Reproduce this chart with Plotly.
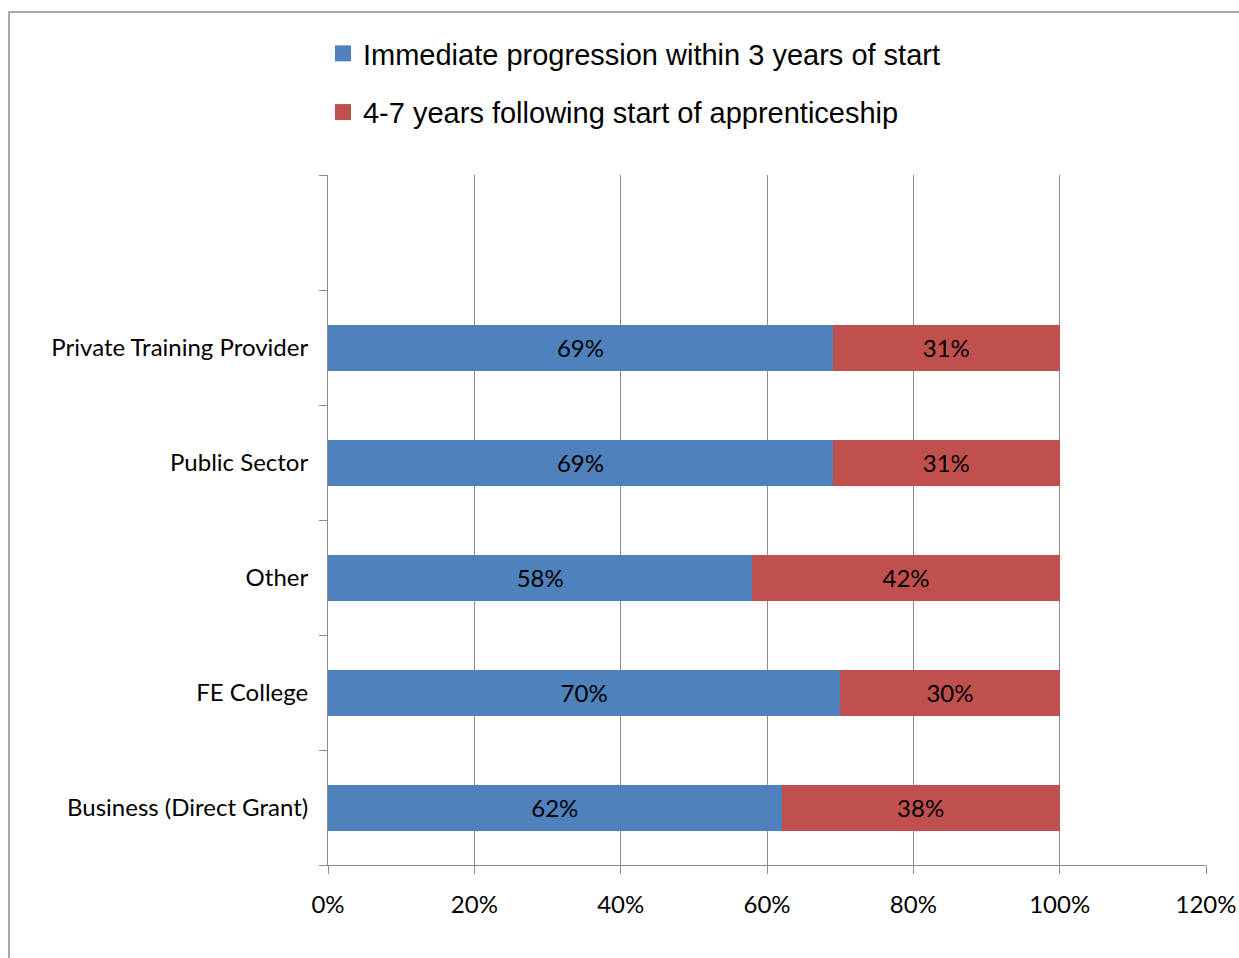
import plotly.graph_objects as go

categories = ["Business (Direct Grant)", "FE College", "Other", "Public Sector", "Private Training Provider"]
immediate = [0.62, 0.70, 0.58, 0.69, 0.69]
later = [0.38, 0.30, 0.42, 0.31, 0.31]
series_names = ["Immediate progression within 3 years of start", "4-7 years following start of apprenticeship"]
x_ticks = [0, 0.2, 0.4, 0.6, 0.8, 1.0, 1.2]
x_ticklabels = ["0%", "20%", "40%", "60%", "80%", "100%", "120%"]

BLUE = "#4F81BD"
RED = "#C0504D"
GRID = "#8C8C8C"
TICKFONT = dict(family="Lato, Open Sans, sans-serif", size=24, color="#000000")

fig = go.Figure()
for name, vals, col, grp in [(series_names[0], immediate, BLUE, "a"), (series_names[1], later, RED, "b")]:
    fig.add_trace(go.Bar(
        y=categories, x=vals, orientation="h", name=name,
        marker=dict(color=col, line=dict(width=0)),
        text=[f"{round(v*100)}%" for v in vals],
        textposition="inside", insidetextanchor="middle",
        textfont=TICKFONT, legendgroup=grp, showlegend=False,
    ))
    # legend entry with a larger square swatch
    fig.add_trace(go.Scatter(
        x=[None], y=[None], mode="markers", name=name,
        marker=dict(symbol="square", size=18, color=col),
        legendgroup=grp, showlegend=True, hoverinfo="skip",
    ))

fig.update_layout(
    barmode="stack",
    bargap=0.6,
    width=1239, height=958,
    margin=dict(l=328, r=33, t=175, b=93, autoexpand=False),
    paper_bgcolor="white", plot_bgcolor="white",
    showlegend=True,
    legend=dict(
        x=-0.0057, y=1.213, xanchor="left", yanchor="top",
        font=dict(family="Liberation Sans, Arial, sans-serif", size=29, color="#000000"),
        traceorder="grouped", tracegroupgap=18,
        bgcolor="rgba(0,0,0,0)",
    ),
    uniformtext=dict(mode="show", minsize=10),
    xaxis=dict(
        range=[0, 1.2], tickvals=x_ticks, ticktext=x_ticklabels,
        showgrid=True, gridcolor=GRID, gridwidth=1,
        showline=True, linecolor=GRID, linewidth=1,
        ticks="outside", ticklen=8, tickcolor=GRID, automargin=False,
        tickfont=TICKFONT, zeroline=False, ticklabelstandoff=10,
    ),
    yaxis=dict(
        type="category", categoryorder="array", categoryarray=categories + [" "],
        range=[-0.5, 5.5], showgrid=False, automargin=False,
        showline=True, linecolor=GRID, linewidth=1,
        ticks="outside", ticklen=8, tickcolor=GRID, tickson="boundaries",
        tickfont=TICKFONT, zeroline=False, ticklabelstandoff=14,
    ),
    shapes=[dict(type="rect", xref="paper", yref="paper",
                 x0=-0.3633, x1=1.3, y0=-0.3, y1=1.2362,
                 line=dict(color="#8C8C8C", width=1.5), fillcolor="rgba(0,0,0,0)", layer="below")],
)

fig.write_html(
    "out.html",
    config={"displayModeBar": False},
    post_script="document.body.style.margin='0';document.body.style.overflow='hidden';",
)
